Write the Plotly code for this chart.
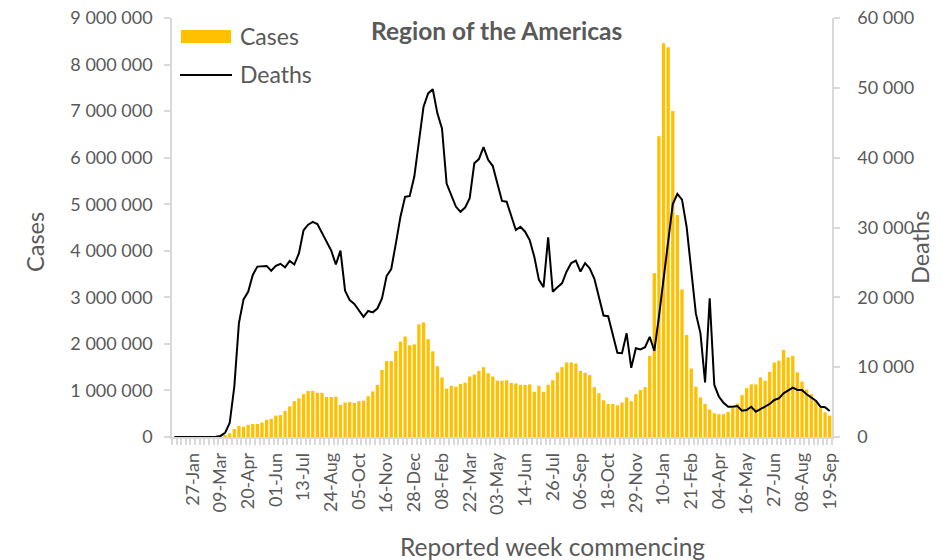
import pandas as pd
import plotly.graph_objects as go

# ---- data -------------------------------------------------------------
week_start = "2019-12-30"
n_weeks = 143
weeks = pd.date_range(week_start, periods=n_weeks, freq="7D")

tick_labels = ["27-Jan", "09-Mar", "20-Apr", "01-Jun", "13-Jul", "24-Aug", "05-Oct",
               "16-Nov", "28-Dec", "08-Feb", "22-Mar", "03-May", "14-Jun", "26-Jul",
               "06-Sep", "18-Oct", "29-Nov", "10-Jan", "21-Feb", "04-Apr", "16-May",
               "27-Jun", "08-Aug", "19-Sep"]
tick_dates = list(weeks[4::6])

cases = [
    0, 0, 0, 0, 0, 0, 0, 0, 0, 2000,
    6000, 25000, 80000, 170000, 240000, 220000, 260000, 280000, 280000, 310000,
    370000, 390000, 460000, 470000, 560000, 660000, 770000, 830000, 920000, 990000,
    990000, 950000, 950000, 860000, 860000, 865000, 690000, 740000, 750000, 730000,
    770000, 780000, 875000, 980000, 1120000, 1440000, 1630000, 1630000, 1850000, 2050000,
    2160000, 1970000, 1990000, 2420000, 2460000, 2100000, 1840000, 1520000, 1280000, 1040000,
    1100000, 1080000, 1140000, 1170000, 1300000, 1340000, 1420000, 1500000, 1370000, 1300000,
    1210000, 1210000, 1220000, 1160000, 1150000, 1120000, 1120000, 1130000, 970000, 1100000,
    970000, 1120000, 1220000, 1390000, 1500000, 1600000, 1600000, 1580000, 1420000, 1380000,
    1330000, 1070000, 940000, 790000, 710000, 710000, 680000, 740000, 850000, 770000,
    920000, 1010000, 1070000, 1740000, 3520000, 6460000, 8460000, 8370000, 7000000, 4770000,
    3170000, 2190000, 1470000, 1080000, 850000, 710000, 590000, 510000, 490000, 490000,
    540000, 620000, 720000, 900000, 1050000, 1130000, 1130000, 1280000, 1210000, 1400000,
    1600000, 1640000, 1870000, 1710000, 1740000, 1390000, 1190000, 1020000, 920000, 790000,
    620000, 530000, 460000,
]

deaths = [
    0, 0, 0, 0, 0, 0, 0, 0, 0, 30,
    150, 600, 2000, 7200, 16300, 19700, 20800, 23200, 24400, 24500,
    24500, 23800, 24500, 24800, 24300, 25200, 24700, 26300, 29600, 30400,
    30800, 30500, 29200, 27800, 26700, 24700, 26700, 20950, 19600, 19050,
    18200, 17200, 18050, 17850, 18400, 19850, 23050, 24050, 27700, 31550,
    34400, 34500, 37300, 42500, 47300, 49200, 49800, 46350, 44200, 36300,
    34650, 33000, 32250, 32850, 34200, 39200, 39800, 41500, 39700, 38800,
    36300, 33800, 33700, 31800, 29650, 30100, 29400, 28200, 25800, 22500,
    21450, 28600, 20800, 21450, 22000, 23700, 24900, 25250, 23700, 24900,
    24150, 22700, 20100, 17400, 17300, 14750, 12050, 12000, 14850, 9900,
    12700, 12550, 12850, 14350, 12350, 17200, 22700, 27600, 33350, 34800,
    34000, 30100, 23900, 17700, 14850, 7800, 19850, 7450, 5770, 4900,
    4330, 4330, 4440, 3770, 3870, 4330, 3620, 3960, 4330, 4730,
    5300, 5540, 6260, 6630, 7060, 6730, 6730, 6110, 5680, 5200,
    4340, 4250, 3720,
]

# ---- styling ------------------------------------------------------------
FONT = "Lato, 'Open Sans', sans-serif"
GREY_TXT = "#595959"
AXIS_GREY = "#d9d9d9"
GOLD = "#FFC000"

half_week = pd.Timedelta(days=3.5)

fig = go.Figure()
fig.add_trace(go.Bar(x=weeks, y=cases, name="Cases", marker=dict(color=GOLD, line=dict(width=0)),
                     yaxis="y"))
fig.add_trace(go.Scatter(x=weeks, y=deaths, name="Deaths", mode="lines",
                         line=dict(color="black", width=2), yaxis="y2"))

fig.update_layout(
    width=942, height=560,
    margin=dict(l=172, r=110, t=18, b=123, autoexpand=False),
    paper_bgcolor="white", plot_bgcolor="white",
    bargap=0.28,
    separators=". ",
    showlegend=False,
    font=dict(family=FONT, color=GREY_TXT, size=18),
    xaxis=dict(
        type="date", automargin=False,
        range=[weeks[0] - half_week, weeks[-1] + half_week],
        tickmode="array", tickvals=tick_dates, ticktext=tick_labels,
        tickangle=-90, ticks="", showgrid=False, zeroline=False,
        showline=True, linecolor=AXIS_GREY, linewidth=1.5,
        tickfont=dict(size=18, color=GREY_TXT, family=FONT),
        ticklabelstandoff=7,
        minor=dict(ticks="outside", ticklen=6, tickcolor=AXIS_GREY, tickwidth=1.5,
                   dtick=7 * 86400000, tick0=weeks[0] - half_week, showgrid=False),
    ),
    yaxis=dict(
        automargin=False,
        range=[0, 9000000], dtick=1000000, tickformat=",d",
        ticks="outside", ticklen=6, tickcolor=AXIS_GREY, tickwidth=1.5,
        showline=True, linecolor=AXIS_GREY, linewidth=1.5,
        showgrid=False, zeroline=False,
        tickfont=dict(size=18, color=GREY_TXT, family=FONT),
        ticklabelstandoff=8,
    ),
    yaxis2=dict(
        automargin=False,
        overlaying="y", side="right",
        range=[0, 60000], dtick=10000, tickformat=",d",
        ticks="outside", ticklen=6, tickcolor=AXIS_GREY, tickwidth=1.5,
        showline=True, linecolor=AXIS_GREY, linewidth=1.5,
        showgrid=False, zeroline=False,
        tickfont=dict(size=18, color=GREY_TXT, family=FONT),
        ticklabelstandoff=14,
    ),
)

def px_x(px):
    return (px - 172) / 660.0

def px_y(py):
    return (437 - py) / 419.0

annotations = [
    dict(text="<b>Region of the Americas</b>", x=px_x(496), y=px_y(30),
         font=dict(size=24.5, color=GREY_TXT, family=FONT)),
    dict(text="Cases", x=px_x(35), y=px_y(242), textangle=-90,
         font=dict(size=23.5, color=GREY_TXT, family=FONT)),
    dict(text="Deaths", x=px_x(920), y=px_y(248), textangle=-90,
         font=dict(size=23.5, color=GREY_TXT, family=FONT)),
    dict(text="Reported week commencing", x=px_x(552), y=px_y(546),
         font=dict(size=24.5, color=GREY_TXT, family=FONT)),
    dict(text="Cases", x=px_x(238), y=px_y(36.5), xanchor="left",
         font=dict(size=23, color=GREY_TXT, family=FONT)),
    dict(text="Deaths", x=px_x(238), y=px_y(74), xanchor="left",
         font=dict(size=23, color=GREY_TXT, family=FONT)),
]
for a in annotations:
    a.update(xref="paper", yref="paper", showarrow=False)
    a.setdefault("xanchor", "center")
    a.setdefault("yanchor", "middle")
fig.update_layout(annotations=annotations)

fig.update_layout(shapes=[
    dict(type="rect", xref="paper", yref="paper",
         x0=px_x(181), x1=px_x(231), y0=px_y(43), y1=px_y(30),
         fillcolor=GOLD, line=dict(width=0)),
    dict(type="line", xref="paper", yref="paper",
         x0=px_x(180), x1=px_x(232), y0=px_y(75), y1=px_y(75),
         line=dict(color="black", width=2)),
])

fig.write_html(
    "out.html",
    config={"displayModeBar": False},
    post_script="document.body.style.margin='0';document.body.style.overflow='hidden';",
)
